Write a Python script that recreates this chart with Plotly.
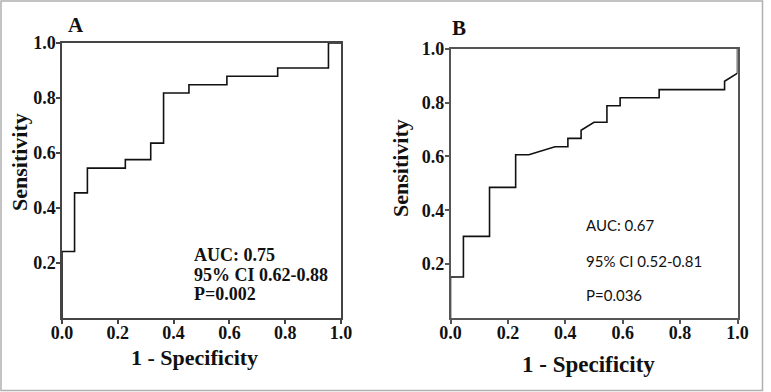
import plotly.graph_objects as go

# ---- data ----
fpr_a = [0, 0, 0.045, 0.045, 0.091, 0.091, 0.227, 0.227, 0.318, 0.318, 0.364, 0.364,
         0.455, 0.455, 0.591, 0.591, 0.773, 0.773, 0.955, 0.955, 1.0]
tpr_a = [0, 0.242, 0.242, 0.455, 0.455, 0.545, 0.545, 0.576, 0.576, 0.636, 0.636, 0.818,
         0.818, 0.848, 0.848, 0.879, 0.879, 0.909, 0.909, 1.0, 1.0]

fpr_b = [0, 0, 0.045, 0.045, 0.136, 0.136, 0.227, 0.227, 0.273, 0.364, 0.409, 0.409,
         0.455, 0.455, 0.5, 0.545, 0.545, 0.591, 0.591, 0.727, 0.727, 0.955, 0.955, 1.0, 1.0]
tpr_b = [0, 0.152, 0.152, 0.303, 0.303, 0.485, 0.485, 0.606, 0.606, 0.636, 0.636, 0.667,
         0.667, 0.697, 0.727, 0.727, 0.788, 0.788, 0.818, 0.818, 0.848, 0.848, 0.879, 0.909, 1.0]

x_ticks = [0.0, 0.2, 0.4, 0.6, 0.8, 1.0]
x_tick_text = ["0.0", "0.2", "0.4", "0.6", "0.8", "1.0"]
y_ticks = [0.2, 0.4, 0.6, 0.8, 1.0]
y_tick_text = ["0.2", "0.4", "0.6", "0.8", "1.0"]

stats_a = ["AUC: 0.75", "95% CI 0.62-0.88", "P=0.002"]
stats_b = ["AUC: 0.67", "95% CI 0.52-0.81", "P=0.036"]

# ---- layout helpers (pixel -> paper) ----
W, H = 771, 392
def px(x):
    return x / W
def py(y):
    return 1 - y / H

SERIF = "Liberation Serif"
SANS = "Lato"

fig = go.Figure()
fig.add_trace(go.Scatter(x=fpr_a, y=tpr_a, mode="lines", line=dict(color="#111", width=1.6),
                         xaxis="x", yaxis="y", showlegend=False, hoverinfo="skip"))
fig.add_trace(go.Scatter(x=fpr_b, y=tpr_b, mode="lines", line=dict(color="#111", width=1.6),
                         xaxis="x2", yaxis="y2", showlegend=False, hoverinfo="skip"))

tickfont = dict(family=SERIF, size=18, color="#111", weight="bold")

def xaxis(domain, anchor, lc):
    return dict(domain=domain, anchor=anchor, range=[0, 1], tickvals=x_ticks, ticktext=x_tick_text,
                showgrid=False, zeroline=False, showline=True, mirror=True, linecolor=lc,
                linewidth=1.5, ticks="outside", ticklen=4, tickcolor=lc, tickwidth=1.5,
                tickfont=tickfont, fixedrange=True, automargin=False, ticklabelstandoff=-6)

def yaxis(domain, anchor, lc):
    return dict(domain=domain, anchor=anchor, range=[0, 1], tickvals=y_ticks, ticktext=y_tick_text,
                showgrid=False, zeroline=False, showline=True, mirror=True, linecolor=lc,
                linewidth=1.5, ticks="outside", ticklen=4, tickcolor=lc, tickwidth=1.5,
                tickfont=tickfont, fixedrange=True, automargin=False, ticklabelstandoff=-3)

fig.update_layout(
    width=W, height=H, margin=dict(l=0, r=0, t=0, b=0, autoexpand=False),
    paper_bgcolor="white", plot_bgcolor="white",
    xaxis=xaxis([px(62), px(341)], "y", "#444"),
    yaxis=yaxis([py(318), py(43)], "x", "#444"),
    xaxis2=xaxis([px(450.5), px(737.5)], "y2", "#555"),
    yaxis2=yaxis([py(318), py(48.7)], "x2", "#555"),
)

anns = []
# panel letters
anns.append(dict(text="A", x=px(76), y=py(25), font=dict(family=SERIF, size=21, weight="bold", color="#111")))
anns.append(dict(text="B", x=px(459), y=py(28), font=dict(family=SERIF, size=21, weight="bold", color="#111")))
# axis titles
title_font = dict(family=SERIF, size=22, weight="bold", color="#111")
anns.append(dict(text="1 - Specificity", x=px(194), y=py(357), font=title_font))
anns.append(dict(text="1 - Specificity", x=px(588), y=py(364), font=dict(family=SERIF, size=23, weight="bold", color="#111")))
anns.append(dict(text="Sensitivity", x=px(20), y=py(162), textangle=-90, font=title_font))
anns.append(dict(text="Sensitivity", x=px(400), y=py(168), textangle=-90, font=title_font))
# stats A
for txt, yy in zip(stats_a, [255, 275, 294]):
    anns.append(dict(text=txt, x=px(192), y=py(yy), xanchor="left",
                     font=dict(family=SERIF, size=18, weight="bold", color="#111")))
# stats B
for txt, yy in zip(stats_b, [225, 261, 295]):
    anns.append(dict(text=txt, x=px(584), y=py(yy), xanchor="left",
                     font=dict(family=SANS, size=15, color="#111")))

for a in anns:
    a.setdefault("xanchor", "center")
    a.update(xref="paper", yref="paper", yanchor="middle", showarrow=False)
fig.update_layout(annotations=anns)

# outer light border
fig.add_shape(type="rect", xref="paper", yref="paper", x0=px(1), x1=px(762.5), y0=py(390.5), y1=py(1),
              line=dict(color="#b0b0b0", width=1.5), fillcolor="rgba(0,0,0,0)", layer="below")

fig.write_html("out.html", config={"displayModeBar": False},
               post_script="document.body.style.margin='0';document.body.style.overflow='hidden';")
